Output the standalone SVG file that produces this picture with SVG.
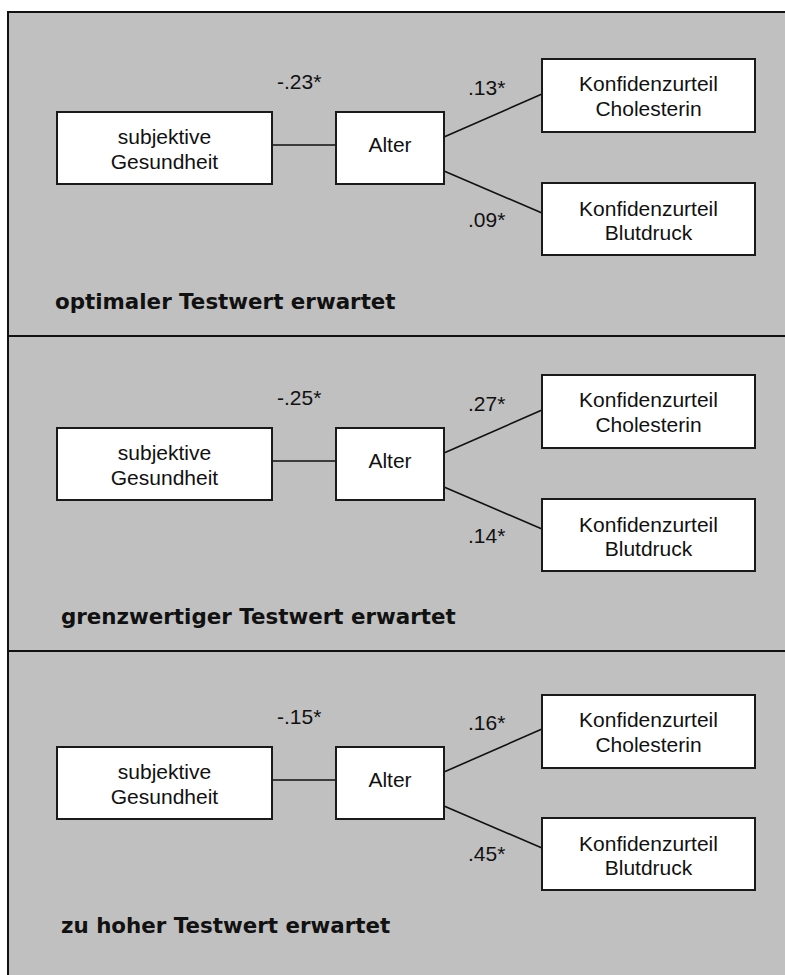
<svg xmlns="http://www.w3.org/2000/svg" width="785" height="975" viewBox="0 0 785 975">
<style>
.bg{fill:#c0c0c0;stroke:none}
.frame{stroke:#111;stroke-width:2;fill:none}
.box{fill:#fff;stroke:#1a1a1a;stroke-width:2}
.edge{stroke:#111;stroke-width:1.6;fill:none}
.t{font-family:"Liberation Sans",Arial,sans-serif;font-size:21px;fill:#111;text-anchor:middle}
.n{font-family:"Liberation Sans",Arial,sans-serif;font-size:21px;fill:#111}
.p{font-family:"DejaVu Sans",Verdana,sans-serif;font-size:21.4px;font-weight:bold;fill:#111}
</style>
<rect x="0" y="0" width="785" height="975" fill="#fff"/>
<rect class="bg" x="8" y="12" width="777" height="963"/>
<g id="frame">
<line class="frame" x1="8" y1="12" x2="785" y2="12"/>
<line class="frame" x1="8" y1="11" x2="8" y2="975"/>
<line class="frame" x1="8" y1="336" x2="785" y2="336"/>
<line class="frame" x1="8" y1="651" x2="785" y2="651"/>
</g>

<!-- Panel 1 -->
<g id="panel1">
<g id="connectors1">
<line class="edge" x1="272" y1="145" x2="336" y2="145"/>
<line class="edge" x1="444" y1="137" x2="542" y2="94"/>
<line class="edge" x1="444" y1="171" x2="542" y2="213"/>
<text class="n" x="277" y="89">-.23*</text>
<text class="n" x="468" y="95">.13*</text>
<text class="n" x="468" y="227">.09*</text>
</g>
<g id="p1-subj"><rect class="box" x="57" y="112" width="215" height="72"/><text class="t" x="164.5" y="144">subjektive</text><text class="t" x="164.5" y="169">Gesundheit</text></g>
<g id="p1-alter"><rect class="box" x="336" y="112" width="108" height="72"/><text class="t" x="390" y="152">Alter</text></g>
<g id="p1-chol"><rect class="box" x="542" y="59" width="213" height="73"/><text class="t" x="648.5" y="91">Konfidenzurteil</text><text class="t" x="648.5" y="116">Cholesterin</text></g>
<g id="p1-blut"><rect class="box" x="542" y="183" width="213" height="72"/><text class="t" x="648.5" y="216">Konfidenzurteil</text><text class="t" x="648.5" y="240">Blutdruck</text></g>
<text class="p" x="55" y="309">optimaler Testwert erwartet</text>
</g>

<!-- Panel 2 -->
<g id="panel2">
<g id="connectors2">
<line class="edge" x1="272" y1="461" x2="336" y2="461"/>
<line class="edge" x1="444" y1="453" x2="542" y2="410"/>
<line class="edge" x1="444" y1="487" x2="542" y2="529"/>
<text class="n" x="277" y="405">-.25*</text>
<text class="n" x="468" y="411">.27*</text>
<text class="n" x="468" y="543">.14*</text>
</g>
<g id="p2-subj"><rect class="box" x="57" y="428" width="215" height="72"/><text class="t" x="164.5" y="460">subjektive</text><text class="t" x="164.5" y="485">Gesundheit</text></g>
<g id="p2-alter"><rect class="box" x="336" y="428" width="108" height="72"/><text class="t" x="390" y="468">Alter</text></g>
<g id="p2-chol"><rect class="box" x="542" y="375" width="213" height="73"/><text class="t" x="648.5" y="407">Konfidenzurteil</text><text class="t" x="648.5" y="432">Cholesterin</text></g>
<g id="p2-blut"><rect class="box" x="542" y="499" width="213" height="72"/><text class="t" x="648.5" y="532">Konfidenzurteil</text><text class="t" x="648.5" y="556">Blutdruck</text></g>
<text class="p" x="61" y="624">grenzwertiger Testwert erwartet</text>
</g>

<!-- Panel 3 -->
<g id="panel3">
<g id="connectors3">
<line class="edge" x1="272" y1="780" x2="336" y2="780"/>
<line class="edge" x1="444" y1="772" x2="542" y2="729"/>
<line class="edge" x1="444" y1="806" x2="542" y2="848"/>
<text class="n" x="277" y="724">-.15*</text>
<text class="n" x="468" y="730">.16*</text>
<text class="n" x="468" y="861">.45*</text>
</g>
<g id="p3-subj"><rect class="box" x="57" y="747" width="215" height="72"/><text class="t" x="164.5" y="779">subjektive</text><text class="t" x="164.5" y="804">Gesundheit</text></g>
<g id="p3-alter"><rect class="box" x="336" y="747" width="108" height="72"/><text class="t" x="390" y="787">Alter</text></g>
<g id="p3-chol"><rect class="box" x="542" y="695" width="213" height="73"/><text class="t" x="648.5" y="727">Konfidenzurteil</text><text class="t" x="648.5" y="752">Cholesterin</text></g>
<g id="p3-blut"><rect class="box" x="542" y="818" width="213" height="72"/><text class="t" x="648.5" y="851">Konfidenzurteil</text><text class="t" x="648.5" y="875">Blutdruck</text></g>
<text class="p" x="61" y="933">zu hoher Testwert erwartet</text>
</g>
</svg>
